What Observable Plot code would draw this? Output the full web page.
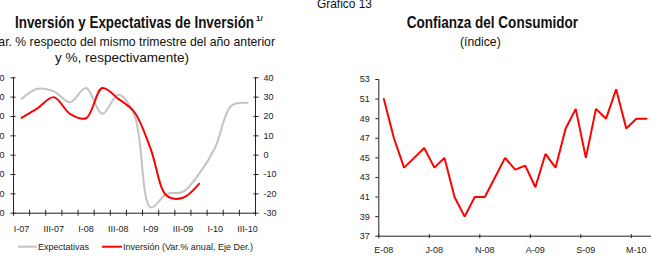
<!DOCTYPE html>
<html>
<head>
<meta charset="utf-8">
<script src="https://cdn.jsdelivr.net/npm/d3@7"></script>
<script src="https://cdn.jsdelivr.net/npm/@observablehq/plot@0.6"></script>
<style>
  body { margin: 0; background: #fff; }
  #page { position: relative; width: 651px; height: 258px; overflow: hidden; background: #fff; }
  #page svg.plot-panel { position: absolute; max-width: none; background: transparent; overflow: visible; }
  #page svg.titles { position: absolute; left: 0; top: 0; }
  .titles text { font-family: "Liberation Sans", Arial, sans-serif; fill: #111; }
  .titles .head { font-weight: bold; }
</style>
</head>
<body>
<div id="page"></div>
<script>
// ---- Inversión y Expectativas de Inversión (trimestral) ----
const quarters = ["I-07","II-07","III-07","IV-07","I-08","II-08","III-08","IV-08",
                  "I-09","II-09","III-09","IV-09","I-10","II-10","III-10"];
// Expectativas de inversión, % (eje izquierdo)
const expectativas = [69.1, 74.3, 73.0, 67.4, 74.7, 61.4, 71.2, 60.5, 13.0, 20.0, 21.0, 30.3, 44.0, 65.5, 67.0];
// Inversión, var. % anual (eje derecho)
const inversion = [19.3, 24.3, 30.0, 21.4, 19.1, 34.7, 29.1, 22.2, 3.3, -21.0, -22.0, -14.8];
const leftTicks = [10, 20, 30, 40, 50, 60, 70, 80];
const rightTicks = [-30, -20, -10, 0, 10, 20, 30, 40];

// ---- Confianza del Consumidor (mensual, índice) ----
const confianza = [51, 47, 44, 45, 46, 44, 45, 41, 39, 41, 41, 43, 45, 43.8, 44.2, 42,
                   45.4, 44, 48, 50, 45, 50, 49, 52, 48, 49, 49];
const monthTickLabels = ["E-08", "J-08", "N-08", "A-09", "S-09", "M-10"];
const monthTickStep = 5;
const confTicks = [37, 39, 41, 43, 45, 47, 49, 51, 53];

const axisColor = "#222";
const font = {fontFamily: '"Liberation Sans", Arial, sans-serif', fontSize: "9px", color: "#222", background: "transparent", overflow: "visible"};

// left axis (%) shares the vertical extent of the right axis (var. %)
const leftToRight = d3.scaleLinear([leftTicks[0], leftTicks[leftTicks.length - 1]],
                                   [rightTicks[0], rightTicks[rightTicks.length - 1]]);

const nQ = quarters.length;
const investPlot = Plot.plot({
  width: 315, height: 180,
  marginLeft: 43, marginRight: 30, marginTop: 17.3, marginBottom: 27.3,
  style: font,
  x: {type: "linear", domain: [-0.5, nQ - 0.5], label: null},
  y: {domain: [rightTicks[0], rightTicks[rightTicks.length - 1]], label: null},
  marks: [
    Plot.ruleX([-0.5, nQ - 0.5], {stroke: axisColor}),
    Plot.ruleY([rightTicks[0]], {stroke: axisColor}),
    // ticks crossing the axis lines
    Plot.axisX({ticks: d3.range(-0.5, nQ, 1), tickSize: 6, dy: -3, tickFormat: () => "", stroke: axisColor, label: null}),
    Plot.axisX({ticks: d3.range(0, nQ, 2), tickSize: 0, tickPadding: 12, tickFormat: i => quarters[i], label: null}),
    Plot.axisY({anchor: "left", ticks: rightTicks, tickSize: 5, dx: 2.5, tickFormat: () => "", stroke: axisColor, label: null}),
    Plot.axisY({anchor: "left", ticks: rightTicks, tickSize: 0, tickPadding: 9, tickFormat: d => String(Math.round(leftToRight.invert(d))), label: null}),
    Plot.axisY({anchor: "right", ticks: rightTicks, tickSize: 5, dx: -2.5, tickFormat: () => "", stroke: axisColor, label: null}),
    Plot.axisY({anchor: "right", ticks: rightTicks, tickSize: 0, tickPadding: 8, tickFormat: d => String(d), label: null}),
    Plot.line(expectativas, {x: (d, i) => i, y: d => leftToRight(d), stroke: "#c3c3c3", strokeWidth: 2, curve: "catmull-rom"}),
    Plot.line(inversion, {x: (d, i) => i, y: d => d, stroke: "#ff0000", strokeWidth: 2, curve: "catmull-rom"})
  ]
});
investPlot.classList.add("plot-panel");
investPlot.style.left = "-30px";
investPlot.style.top = "60px";

const nM = confianza.length;
const confPlot = Plot.plot({
  width: 321, height: 198,
  marginLeft: 48.3, marginRight: 0, marginTop: 19, marginBottom: 22.3,
  style: font,
  x: {type: "linear", domain: [-0.5, nM - 0.5], label: null},
  y: {domain: [confTicks[0], confTicks[confTicks.length - 1]], label: null},
  marks: [
    Plot.ruleX([-0.5], {stroke: axisColor}),
    Plot.ruleY([confTicks[0]], {stroke: axisColor}),
    Plot.axisY({ticks: confTicks, tickSize: 3, tickPadding: 6, stroke: axisColor, label: null}),
    Plot.axisX({ticks: monthTickLabels.map((_, k) => k * monthTickStep - 0.5), tickSize: 4, dy: -1.5, tickFormat: () => "", stroke: axisColor, label: null}),
    Plot.axisX({ticks: monthTickLabels.map((_, k) => k * monthTickStep), tickSize: 0, tickPadding: 10, tickFormat: d => monthTickLabels[d / monthTickStep], label: null}),
    Plot.line(confianza, {x: (d, i) => i, y: d => d, stroke: "#ff0000", strokeWidth: 2, strokeLinejoin: "miter"})
  ]
});
confPlot.classList.add("plot-panel");
confPlot.style.left = "330px";
confPlot.style.top = "60px";

const page = document.getElementById("page");
page.appendChild(investPlot);
page.appendChild(confPlot);

// titles and legend
const ns = "http://www.w3.org/2000/svg";
const svg = document.createElementNS(ns, "svg");
svg.setAttribute("class", "titles");
svg.setAttribute("width", 651);
svg.setAttribute("height", 258);
// text set between x0 and x1 (condensed to fit that span)
function span(str, x0, x1, y, size, cls) {
  const t = document.createElementNS(ns, "text");
  t.setAttribute("x", x0); t.setAttribute("y", y);
  t.setAttribute("font-size", size);
  t.setAttribute("textLength", x1 - x0);
  t.setAttribute("lengthAdjust", "spacingAndGlyphs");
  if (cls) t.setAttribute("class", cls);
  t.textContent = str;
  svg.appendChild(t);
  return t;
}
function txt(str, x, y, size, fill) {
  const t = document.createElementNS(ns, "text");
  t.setAttribute("x", x); t.setAttribute("y", y);
  t.setAttribute("font-size", size);
  if (fill) t.setAttribute("style", "fill:" + fill);
  t.textContent = str;
  svg.appendChild(t);
  return t;
}
function swatch(x1, x2, y, color) {
  const l = document.createElementNS(ns, "line");
  l.setAttribute("x1", x1); l.setAttribute("x2", x2);
  l.setAttribute("y1", y); l.setAttribute("y2", y);
  l.setAttribute("stroke", color); l.setAttribute("stroke-width", 2);
  svg.appendChild(l);
}
span("Gráfico 13", 317, 372, 8, 12);

// title with its footnote mark as a superscript
const title = document.createElementNS(ns, "text");
title.setAttribute("class", "head");
title.setAttribute("x", 15); title.setAttribute("y", 28);
const titleMain = document.createElementNS(ns, "tspan");
titleMain.setAttribute("font-size", 16.5);
titleMain.setAttribute("textLength", 239);
titleMain.setAttribute("lengthAdjust", "spacingAndGlyphs");
titleMain.textContent = "Inversión y Expectativas de Inversión";
const titleSup = document.createElementNS(ns, "tspan");
titleSup.setAttribute("font-size", 8);
titleSup.setAttribute("x", 256);
titleSup.setAttribute("dy", -7);
titleSup.textContent = "1/";
title.appendChild(titleMain);
title.appendChild(titleSup);
svg.appendChild(title);

span("(Var. % respecto del mismo trimestre del año anterior", -13, 275, 45.5, 13);
span("y %, respectivamente)", 55, 189, 61.5, 13);
span("Confianza del Consumidor", 406.7, 578, 28, 16.5, "head");
span("(índice)", 460, 500.7, 46, 13);
swatch(18, 37, 246.7, "#c3c3c3");
txt("Expectativas", 38, 250, 9, "#222");
swatch(102, 122, 246.7, "#ff0000");
txt("Inversión (Var.% anual, Eje Der.)", 123, 250, 9, "#222");
page.appendChild(svg);
</script>
</body>
</html>
